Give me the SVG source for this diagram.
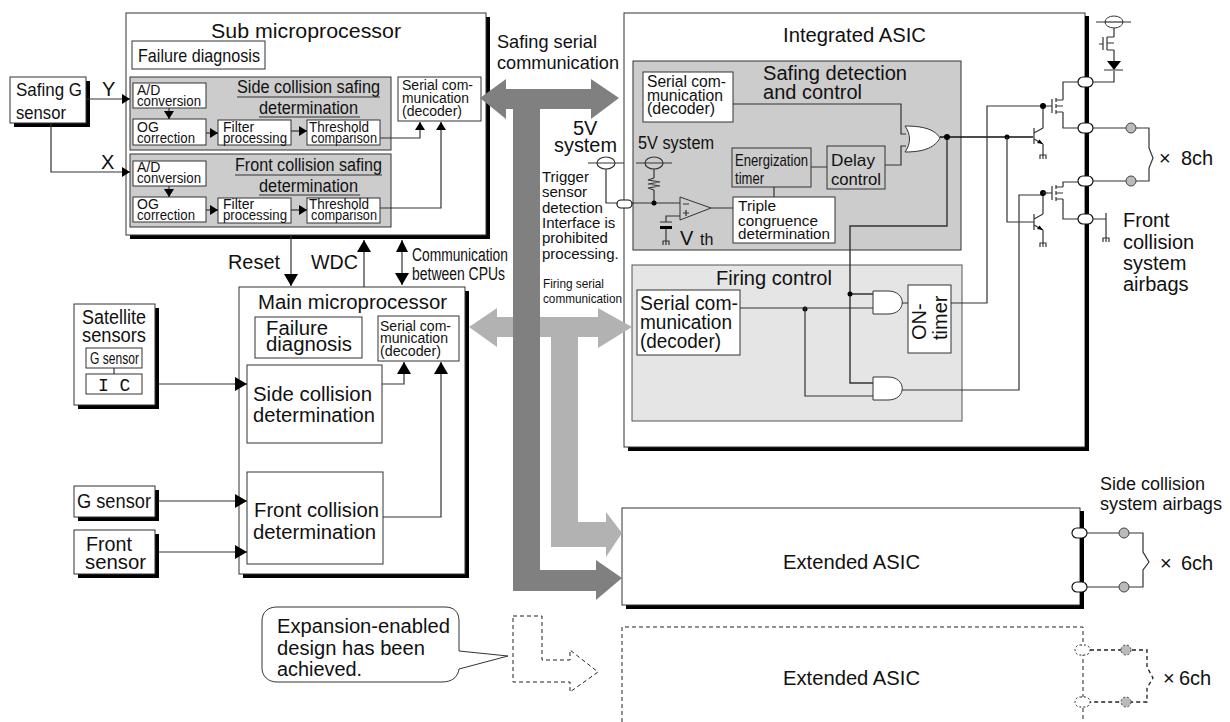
<svg xmlns="http://www.w3.org/2000/svg" width="1230" height="722" viewBox="0 0 1230 722">
<style>
text{font-family:"Liberation Sans",Arial,sans-serif;fill:#111;font-size:20px}
.s13{font-size:13px}.s14{font-size:14px}.s15{font-size:15px}.s16{font-size:16px}.s17{font-size:17px}.s18{font-size:18px}.s19{font-size:19px}
.b{fill:#fff;stroke:#333;stroke-width:1}
.g1{fill:#ccc;stroke:#333;stroke-width:1}
.g2{fill:#e5e5e5;stroke:#555;stroke-width:1}
.sh{fill:#000;stroke:none}
.l{fill:none;stroke:#333;stroke-width:1.200}
.d{fill:none;stroke:#222;stroke-width:1;stroke-dasharray:4 3}
.pill{fill:#fff;stroke:#111;stroke-width:1.200}
.dot{fill:#000;stroke:none}
.bag{fill:#bbb;stroke:#444;stroke-width:1}
</style>
<defs>
<marker id="a" markerUnits="userSpaceOnUse" markerWidth="12" markerHeight="14" refX="12" refY="7" orient="auto"><path d="M0 0L12 7L0 14Z" fill="#000"/></marker>
<marker id="as" markerUnits="userSpaceOnUse" markerWidth="8" markerHeight="10" refX="8" refY="5" orient="auto"><path d="M0 0L8 5L0 10Z" fill="#000"/></marker>
<g id="gnd"><path class="l" d="M-3.500 0H3.500M-3 0V4M0 0V4M3 0V4"/></g>
<g id="mos"><path class="l" d="M-4 0H0M0 -7V7M4 -8V-4M4 -2V2M4 4V8M4 -6H11M4 0H11M4 6H11M11 -6V-7M11 6V7"/></g>
<g id="bjt"><path class="l" d="M0 -8V8M0 -3L9 -8M0 3L9 8"/><path d="M9 8L3 7L5.500 3.500Z" fill="#000"/></g>
</defs>

<g id="shadows">
<rect class="sh" x="130" y="17" width="360" height="222"/>
<rect class="sh" x="14" y="81" width="76" height="46"/>
<rect class="sh" x="243" y="291" width="226" height="287"/>
<rect class="sh" x="78" y="308" width="81" height="101"/>
<rect class="sh" x="78" y="490" width="81" height="31"/>
<rect class="sh" x="78" y="534" width="81" height="44"/>
<rect class="sh" x="628" y="16" width="461" height="435"/>
<rect class="sh" x="626" y="511" width="458" height="98"/>
</g>

<g id="sub-microprocessor">
<rect class="b" x="126" y="13" width="360" height="222"/>
<text x="211" y="38" textLength="190" lengthAdjust="spacingAndGlyphs">Sub microprocessor</text>
<rect class="b" x="132" y="41" width="133" height="28"/>
<text class="s19" x="138" y="62" textLength="122" lengthAdjust="spacingAndGlyphs">Failure diagnosis</text>
<rect class="b" x="398" y="77" width="83" height="44"/>
<text class="s14" x="402" y="90" textLength="71" lengthAdjust="spacingAndGlyphs">Serial com-</text>
<text class="s14" x="402" y="103" textLength="67" lengthAdjust="spacingAndGlyphs">munication</text>
<text class="s14" x="402" y="116" textLength="60" lengthAdjust="spacingAndGlyphs">(decoder)</text>
</g>
<g id="side-safing">
<rect class="g1" x="130" y="77" width="261" height="73"/>
<text class="s18" x="237" y="93" textLength="143" lengthAdjust="spacingAndGlyphs">Side collision safing</text>
<path class="l" d="M237 97H380M259 117H360"/>
<text class="s18" x="259" y="114" textLength="99" lengthAdjust="spacingAndGlyphs">determination</text>
<rect class="b" x="133" y="83" width="73" height="25"/>
<text class="s14" x="137" y="95">A/D</text><text class="s14" x="137" y="106" textLength="64" lengthAdjust="spacingAndGlyphs">conversion</text>
<rect class="b" x="133" y="119" width="73" height="26"/>
<text class="s14" x="137" y="132">OG</text><text class="s14" x="137" y="143" textLength="58" lengthAdjust="spacingAndGlyphs">correction</text>
<rect class="b" x="218" y="120" width="73" height="25"/>
<text class="s14" x="223" y="132">Filter</text><text class="s14" x="223" y="143" textLength="64" lengthAdjust="spacingAndGlyphs">processing</text>
<rect class="b" x="307" y="120" width="73" height="25"/>
<text class="s14" x="309" y="132" textLength="60" lengthAdjust="spacingAndGlyphs">Threshold</text><text class="s14" x="311" y="143" textLength="66" lengthAdjust="spacingAndGlyphs">comparison</text>
</g>
<g id="front-safing">
<rect class="g1" x="130" y="154" width="261" height="73"/>
<text class="s18" x="235" y="171" textLength="147" lengthAdjust="spacingAndGlyphs">Front collision safing</text>
<path class="l" d="M235 175H382M259 195H360"/>
<text class="s18" x="259" y="192" textLength="99" lengthAdjust="spacingAndGlyphs">determination</text>
<rect class="b" x="133" y="161" width="73" height="25"/>
<text class="s14" x="137" y="172">A/D</text><text class="s14" x="137" y="183" textLength="64" lengthAdjust="spacingAndGlyphs">conversion</text>
<rect class="b" x="133" y="197" width="73" height="25"/>
<text class="s14" x="137" y="209">OG</text><text class="s14" x="137" y="220" textLength="58" lengthAdjust="spacingAndGlyphs">correction</text>
<rect class="b" x="218" y="198" width="73" height="25"/>
<text class="s14" x="223" y="209">Filter</text><text class="s14" x="223" y="220" textLength="64" lengthAdjust="spacingAndGlyphs">processing</text>
<rect class="b" x="307" y="198" width="73" height="25"/>
<text class="s14" x="309" y="209" textLength="60" lengthAdjust="spacingAndGlyphs">Threshold</text><text class="s14" x="311" y="220" textLength="66" lengthAdjust="spacingAndGlyphs">comparison</text>
</g>
<g id="safing-g-sensor">
<rect class="b" x="10" y="77" width="76" height="46"/>
<text class="s19" x="16" y="96" textLength="66" lengthAdjust="spacingAndGlyphs">Safing G</text>
<text class="s19" x="16" y="119" textLength="50" lengthAdjust="spacingAndGlyphs">sensor</text>
</g>

<g id="main-microprocessor">
<rect class="b" x="239" y="287" width="226" height="287"/>
<text x="258" y="309" textLength="189" lengthAdjust="spacingAndGlyphs">Main microprocessor</text>
<rect class="b" x="255" y="317" width="107" height="41"/>
<text x="266" y="335" textLength="62" lengthAdjust="spacingAndGlyphs">Failure</text>
<text x="266" y="351" textLength="86" lengthAdjust="spacingAndGlyphs">diagnosis</text>
<rect class="b" x="378" y="316" width="81" height="45"/>
<text class="s14" x="380" y="331" textLength="71" lengthAdjust="spacingAndGlyphs">Serial com-</text>
<text class="s14" x="380" y="343" textLength="68" lengthAdjust="spacingAndGlyphs">munication</text>
<text class="s14" x="380" y="356" textLength="61" lengthAdjust="spacingAndGlyphs">(decoder)</text>
<rect class="b" x="247" y="365" width="135" height="78"/>
<text x="253" y="401" textLength="119" lengthAdjust="spacingAndGlyphs">Side collision</text>
<text x="253" y="422" textLength="122" lengthAdjust="spacingAndGlyphs">determination</text>
<rect class="b" x="247" y="472" width="136" height="92"/>
<text x="254" y="517" textLength="125" lengthAdjust="spacingAndGlyphs">Front collision</text>
<text x="253" y="539" textLength="123" lengthAdjust="spacingAndGlyphs">determination</text>
</g>
<g id="satellite-sensors">
<rect class="b" x="74" y="304" width="81" height="101"/>
<text x="82" y="324" textLength="64" lengthAdjust="spacingAndGlyphs">Satellite</text>
<text x="82" y="342" textLength="64" lengthAdjust="spacingAndGlyphs">sensors</text>
<rect class="b" x="86" y="348" width="56" height="20"/>
<text class="s17" x="90" y="364" textLength="49" lengthAdjust="spacingAndGlyphs">G sensor</text>
<path class="l" d="M114 368V374"/>
<rect class="b" x="86" y="374" width="56" height="20"/>
<text x="98" y="391" class="s18" style="font-family:'Liberation Mono',monospace">I C</text>
</g>
<g id="g-sensor">
<rect class="b" x="74" y="486" width="81" height="31"/>
<text x="77" y="508" textLength="74" lengthAdjust="spacingAndGlyphs">G sensor</text>
</g>
<g id="front-sensor">
<rect class="b" x="74" y="530" width="81" height="44"/>
<text x="86" y="551" textLength="46" lengthAdjust="spacingAndGlyphs">Front</text>
<text x="85" y="569" textLength="61" lengthAdjust="spacingAndGlyphs">sensor</text>
</g>

<g id="integrated-asic">
<rect class="b" x="624" y="13" width="461" height="434"/>
<rect x="1085" y="16" width="4" height="435" fill="#000"/>
<text x="783" y="42" textLength="143" lengthAdjust="spacingAndGlyphs">Integrated ASIC</text>
</g>
<g id="safing-detection">
<rect class="g1" x="633" y="61" width="328" height="189"/>
<text x="763" y="80" textLength="144" lengthAdjust="spacingAndGlyphs">Safing detection</text>
<text x="763" y="99" textLength="99" lengthAdjust="spacingAndGlyphs">and control</text>
<rect class="b" x="643" y="72" width="90" height="50"/>
<text class="s16" x="647" y="87" textLength="79" lengthAdjust="spacingAndGlyphs">Serial com-</text>
<text class="s16" x="647" y="101" textLength="76" lengthAdjust="spacingAndGlyphs">munication</text>
<text class="s16" x="647" y="114" textLength="68" lengthAdjust="spacingAndGlyphs">(decoder)</text>
<text class="s18" x="638" y="149" textLength="76" lengthAdjust="spacingAndGlyphs">5V system</text>
<rect class="g1" x="732" y="148" width="79" height="39"/>
<text class="s17" x="735" y="166" textLength="73" lengthAdjust="spacingAndGlyphs">Energization</text>
<text class="s17" x="735" y="184" textLength="29" lengthAdjust="spacingAndGlyphs">timer</text>
<rect class="g1" x="827" y="146" width="58" height="43"/>
<text class="s17" x="831" y="166" textLength="44" lengthAdjust="spacingAndGlyphs">Delay</text>
<text class="s17" x="831" y="185" textLength="50" lengthAdjust="spacingAndGlyphs">control</text>
<rect class="b" x="733" y="197" width="102" height="46"/>
<text class="s15" x="738" y="211" style="font-size:15.500px">Triple</text>
<text class="s15" x="738" y="226" style="font-size:15.500px" textLength="80" lengthAdjust="spacingAndGlyphs">congruence</text>
<text class="s15" x="738" y="239" style="font-size:15.500px" textLength="92" lengthAdjust="spacingAndGlyphs">determination</text>
<path id="or-gate" class="b" d="M905 126C925 126 935 130 940 138C935 147 925 152 905 152C911 144 911 134 905 126Z"/>
<path id="comparator" class="g1" d="M680 197L711 208L680 220Z"/>
<path class="l" d="M683 204H689M686 210V216M683 213H689"/>
<text x="680" y="245">V</text>
<text class="s16" x="700" y="245">th</text>
</g>
<g id="firing-control">
<rect class="g2" x="632" y="265" width="330" height="156"/>
<text x="716" y="285" textLength="116" lengthAdjust="spacingAndGlyphs">Firing control</text>
<rect class="b" x="637" y="290" width="103" height="65"/>
<text x="640" y="310" textLength="98" lengthAdjust="spacingAndGlyphs">Serial com-</text>
<text x="640" y="329" textLength="92" lengthAdjust="spacingAndGlyphs">munication</text>
<text x="640" y="348" textLength="81" lengthAdjust="spacingAndGlyphs">(decoder)</text>
<path id="and-gate-1" class="b" d="M873 291H888C907 291 907 314 888 314H873Z"/>
<path id="and-gate-2" class="b" d="M873 377H888C907 377 907 400 888 400H873Z"/>
<rect class="b" x="908" y="285" width="43" height="68"/>
<text transform="translate(926 340) rotate(-90)">ON-</text>
<text transform="translate(947 340) rotate(-90)">timer</text>
</g>
<g id="extended-asic">
<rect class="b" x="622" y="508" width="458" height="97"/>
<rect x="1080" y="511" width="4" height="98" fill="#000"/>
<text x="783" y="569" textLength="137" lengthAdjust="spacingAndGlyphs">Extended ASIC</text>
</g>
<g id="extended-asic-dashed">
<path class="d" d="M622 722V627H1083V722"/>
<text x="783" y="685" textLength="137" lengthAdjust="spacingAndGlyphs">Extended ASIC</text>
</g>

<g id="connectors">
<path class="l" marker-end="url(#as)" d="M86 99H130"/>
<path class="l" marker-end="url(#as)" d="M51 123V172H130"/>
<path class="l" marker-end="url(#as)" d="M169 108V119"/>
<path class="l" marker-end="url(#as)" d="M206 133H218"/>
<path class="l" marker-end="url(#as)" d="M291 131H307"/>
<path class="l" marker-end="url(#as)" d="M380 138H420V122"/>
<path class="l" marker-end="url(#as)" d="M169 186V197"/>
<path class="l" marker-end="url(#as)" d="M206 210H218"/>
<path class="l" marker-end="url(#as)" d="M291 210H307"/>
<path class="l" marker-end="url(#as)" d="M380 208H441V122"/>
<path class="l" marker-end="url(#a)" d="M291 235V286"/>
<path class="l" marker-end="url(#a)" d="M364 287V240"/>
<path class="l" marker-end="url(#a)" d="M402 240V285"/>
<path d="M402 240L396 252H408Z" fill="#000"/>
<path class="l" marker-end="url(#a)" d="M158 384H247"/>
<path class="l" marker-end="url(#a)" d="M158 501H247"/>
<path class="l" marker-end="url(#a)" d="M158 552H247"/>
<path class="l" marker-end="url(#a)" d="M382 384H404V362"/>
<path class="l" marker-end="url(#a)" d="M383 517H441V362"/>

<path fill="#b2b2b2" d="M469 327L497 308V317H598V308L632 327L598 348V337H578V522H606V512L622 533L606 557V547H551V337H497V347Z"/>
<path fill="#808080" d="M480 98L506 79V89H591V79L619 98L591 119V109H540V570H596V560L622 578L596 600V591H513V109H506V119Z"/>

<path class="l" d="M733 104H901V134H906M885 165H901V146H906"/>
<path class="l" d="M811 167H827M774 187V197M711 208H733"/>
<path class="l" d="M632 203H680M654 169V178M654 190V203"/>
<path class="l" d="M654 178L648 180L660 182L648 184L660 186L648 188L654 190"/>
<path class="l" d="M636 163H672M588 163H624M606 169V203H617"/>
<ellipse class="l" cx="654" cy="163" rx="9" ry="6"/>
<ellipse class="l" cx="606" cy="163" rx="9" ry="6"/>
<circle class="dot" cx="654" cy="203" r="2.500"/>
<path class="l" d="M680 216H666V222M666 228V241M660 222H672"/>
<path d="M660 226H672V229H660Z" fill="#000"/>
<use href="#gnd" x="666" y="241"/>
<rect class="pill" x="617" y="200" width="15" height="8" rx="4"/>

<path class="l" style="stroke:#111;stroke-width:1.500" d="M940 137H1033"/>
<path class="l" style="stroke-width:1.400" d="M947 137V226H850V383H873M850 294H873"/>
<circle class="dot" cx="947" cy="137" r="3"/>
<circle class="dot" cx="1007" cy="137" r="2.500"/>
<circle class="dot" cx="850" cy="294" r="2.500"/>
<circle class="dot" cx="805" cy="309" r="2.500"/>
<path class="l" d="M740 308H873M805 308V396H873M902 303H908"/>
<path class="l" d="M951 303H987V106H1048M902 390H1019V195H1043M1007 137V222H1034"/>

<use href="#bjt" x="1034" y="136"/>
<use href="#bjt" x="1034" y="222"/>
<path class="l" d="M1043 106V128M1043 144V155M1043 193V214M1043 230V243"/>
<use href="#gnd" x="1043" y="155"/>
<use href="#gnd" x="1043" y="243"/>
<circle class="dot" cx="1043" cy="106" r="3"/>
<circle class="dot" cx="1043" cy="193" r="3"/>
<path class="l" d="M1043 193H1048"/>
<use href="#mos" x="1052" y="106"/>
<use href="#mos" x="1052" y="193"/>
<path class="l" d="M1063 99V82H1078M1063 113V128H1078M1063 186V182H1078M1063 200V219H1078"/>
<rect class="pill" x="1078" y="77" width="15" height="10" rx="5"/>
<rect class="pill" x="1078" y="123" width="15" height="10" rx="5"/>
<rect class="pill" x="1078" y="176" width="15" height="10" rx="5"/>
<rect class="pill" x="1078" y="214" width="15" height="10" rx="5"/>
<path class="l" d="M1093 82H1114V71M1104 70H1123M1114 61V50M1114 28V37M1096 22H1131"/>
<ellipse class="b" cx="1114" cy="22" rx="9" ry="6"/><path class="l" d="M1105 22H1123"/>
<path d="M1107 61H1121L1114 70Z" fill="#000"/>
<path class="l" d="M1099 44H1103M1103 37V50M1107 37V50M1107 37H1114M1107 50H1114M1107 43H1114"/>
<path class="l" d="M1093 128H1149V148L1153 158L1149 168V181H1093M1093 219H1106M1106 213V238"/>
<use href="#gnd" x="1106" y="238"/>
<circle class="bag" cx="1131" cy="128" r="5"/>
<circle class="bag" cx="1131" cy="181" r="5"/>

<rect class="pill" x="1072" y="528" width="15" height="10" rx="5"/>
<rect class="pill" x="1072" y="582" width="15" height="10" rx="5"/>
<path class="l" d="M1087 533H1143V552L1149 562L1143 570V587H1087"/>
<circle class="bag" cx="1124" cy="533" r="5"/>
<circle class="bag" cx="1124" cy="587" r="5"/>

<rect class="d" x="1075" y="645" width="15" height="10" rx="5" style="fill:#fff;stroke-dasharray:2 2"/>
<rect class="d" x="1075" y="697" width="15" height="10" rx="5" style="fill:#fff;stroke-dasharray:2 2"/>
<path class="d" style="stroke-width:1.300" d="M1090 650H1147V667L1153 678L1147 688V702H1090"/>
<circle class="bag" cx="1126" cy="650" r="5" style="stroke-dasharray:2 2"/>
<circle class="bag" cx="1126" cy="702" r="5" style="stroke-dasharray:2 2"/>
<path class="d" d="M513 616H542V660H570V650L598 672L570 692V682H513Z"/>
</g>

<g id="callout">
<path class="b" d="M277 607H445C454 607 459 612 459 621V651L508 656L459 669C458 677 452 682 442 682H277C268 682 262 676 262 668V621C262 612 268 607 277 607Z"/>
<text x="277" y="633" textLength="173" lengthAdjust="spacingAndGlyphs">Expansion-enabled</text>
<text x="277" y="655" textLength="148" lengthAdjust="spacingAndGlyphs">design has been</text>
<text x="277" y="676" textLength="85" lengthAdjust="spacingAndGlyphs">achieved.</text>
</g>

<g id="labels">
<text x="102" y="96">Y</text>
<text x="101" y="169">X</text>
<text x="228" y="269" textLength="52" lengthAdjust="spacingAndGlyphs">Reset</text>
<text x="311" y="269" textLength="47" lengthAdjust="spacingAndGlyphs">WDC</text>
<text class="s18" x="412" y="261" textLength="96" lengthAdjust="spacingAndGlyphs">Communication</text>
<text class="s18" x="412" y="280" textLength="93" lengthAdjust="spacingAndGlyphs">between CPUs</text>
<text class="s19" x="497" y="48" textLength="100" lengthAdjust="spacingAndGlyphs">Safing serial</text>
<text class="s19" x="497" y="69" textLength="122" lengthAdjust="spacingAndGlyphs">communication</text>
<text x="573" y="135">5V</text>
<text x="554" y="152" textLength="63" lengthAdjust="spacingAndGlyphs">system</text>
<text class="s15" x="542" y="182">Trigger</text>
<text class="s15" x="542" y="197">sensor</text>
<text class="s15" x="542" y="213">detection</text>
<text class="s15" x="542" y="228">Interface is</text>
<text class="s15" x="542" y="243">prohibited</text>
<text class="s15" x="542" y="259">processing.</text>
<text class="s13" x="543" y="288" textLength="61" lengthAdjust="spacingAndGlyphs">Firing serial</text>
<text class="s13" x="543" y="303" textLength="79" lengthAdjust="spacingAndGlyphs">communication</text>
<text x="1123" y="227">Front</text>
<text x="1123" y="249">collision</text>
<text x="1123" y="270">system</text>
<text x="1123" y="291">airbags</text>
<text x="1159" y="165">×</text><text x="1181" y="165">8ch</text>
<text class="s18" x="1100" y="490" textLength="105" lengthAdjust="spacingAndGlyphs">Side collision</text>
<text class="s18" x="1100" y="510" textLength="122" lengthAdjust="spacingAndGlyphs">system airbags</text>
<text x="1160" y="570">×</text><text x="1181" y="570">6ch</text>
<text x="1163" y="685">×</text><text x="1179" y="685">6ch</text>
</g>
</svg>
